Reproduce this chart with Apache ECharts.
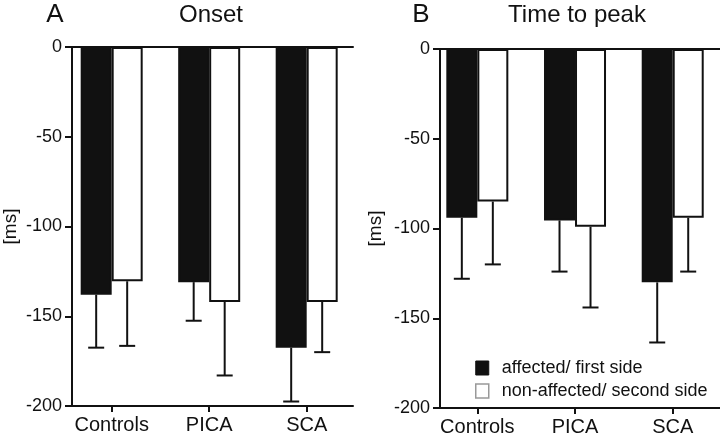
<!DOCTYPE html>
<html>
<head>
<meta charset="utf-8">
<script src="https://cdn.jsdelivr.net/npm/echarts@6/dist/echarts.min.js"></script>
<style>
html,body{margin:0;padding:0;background:#fff;}
#c{width:720px;height:438px;}
</style>
</head>
<body>
<div id="c"></div>
<script>
// ---- data ----
const categories = ['Controls', 'PICA', 'SCA'];
const catPos = [0, 1, 2];
const seriesNames = ['affected/ first side', 'non-affected/ second side'];
// Panel A: Onset [ms]
const onsetAffected = [-138, -131, -167.5];
const onsetAffectedSD = [29.5, 21.5, 30];
const onsetNon = [-130.5, -142, -142];
const onsetNonSD = [36, 41, 28];
// Panel B: Time to peak [ms]
const peakAffected = [-94, -95.5, -130];
const peakAffectedSD = [34, 28.5, 33.5];
const peakNon = [-85, -99, -94];
const peakNonSD = [35, 45, 30];
const yMin = -200, yMax = 0, yStep = 50;

const FONT = '"Liberation Sans", Arial, Helvetica, sans-serif';
const INK = '#111';
const BW = 31;

const chart = echarts.init(document.getElementById('c'), null, {renderer: 'canvas'});

function xAxes(grid, min, max) {
  return [
    {
      gridIndex: grid, type: 'value', position: 'bottom', min: min, max: max,
      splitLine: {show: false},
      axisLine: {show: true, onZero: false, lineStyle: {color: INK, width: 2}},
      axisTick: {show: true, length: 6, lineStyle: {color: INK, width: 2}, customValues: catPos},
      axisLabel: {show: true, customValues: catPos, margin: 9, fontSize: 20, color: INK, fontFamily: FONT,
        formatter: v => categories[Math.round(v)]}
    },
    {
      gridIndex: grid, type: 'value', position: 'top', min: min, max: max,
      splitLine: {show: false},
      axisLine: {show: true, onZero: false, lineStyle: {color: INK, width: 2}},
      axisTick: {show: false}, axisLabel: {show: false}
    }
  ];
}
function yAxis(grid, gap) {
  return {
    gridIndex: grid, type: 'value', min: yMin, max: yMax, interval: yStep,
    splitLine: {show: false},
    axisLine: {show: true, onZero: false, lineStyle: {color: INK, width: 2}},
    axisTick: {show: true, length: 7, lineStyle: {color: INK, width: 2}},
    axisLabel: {margin: 10, fontSize: 18, color: INK, fontFamily: FONT},
    name: '[ms]', nameLocation: 'middle', nameRotate: 90, nameGap: gap,
    nameTextStyle: {fontSize: 19, color: INK, fontFamily: FONT}
  };
}
function bars(name, xi, yi, vals, fill) {
  return {
    name: name, type: 'bar', xAxisIndex: xi, yAxisIndex: yi,
    barWidth: BW, barGap: '0%',
    data: catPos.map((x, i) => [x, vals[i]]),
    itemStyle: {color: fill, borderColor: INK, borderWidth: 2},
    silent: true, animation: false
  };
}
function errs(xi, yi, vals, sds, side) {
  return {
    type: 'custom', xAxisIndex: xi, yAxisIndex: yi, silent: true, animation: false, z: 3,
    data: catPos.map((x, i) => [x, vals[i], sds[i]]),
    renderItem: function (params, api) {
      const x = api.value(0), m = api.value(1), s = api.value(2);
      const a = api.coord([x, m]);
      const b = api.coord([x, m - s]);
      const cx = a[0] + side * BW / 2;
      const st = {stroke: INK, lineWidth: 2};
      return {type: 'group', children: [
        {type: 'line', shape: {x1: cx, y1: a[1], x2: cx, y2: b[1]}, style: st},
        {type: 'line', shape: {x1: cx - 8, y1: b[1], x2: cx + 8, y2: b[1]}, style: st}
      ]};
    }
  };
}

const option = {
  backgroundColor: '#fff',
  animation: false,
  textStyle: {fontFamily: FONT},
  grid: [
    {left: 72, top: 47, width: 281, height: 359},
    {left: 440, top: 49, width: 282, height: 359}
  ],
  xAxis: [].concat(xAxes(0, -0.407, 2.475), xAxes(1, -0.382, 2.484)),
  yAxis: [yAxis(0, 52), yAxis(1, 55)],
  legend: {
    orient: 'vertical', left: 475, top: 359, padding: 0,
    itemWidth: 13, itemHeight: 14, itemGap: 5,
    selectedMode: false,
    textStyle: {fontSize: 18, color: INK, fontFamily: FONT, padding: [0, 0, 0, 8]},
    data: [
      {name: seriesNames[0], icon: 'rect', itemStyle: {color: INK, borderColor: INK, borderWidth: 1}},
      {name: seriesNames[1], icon: 'rect', itemStyle: {color: '#fff', borderColor: '#999', borderWidth: 1.5}}
    ]
  },
  graphic: [
    {type: 'text', x: 55, y: 15, style: {text: 'A', font: '26px ' + FONT, fill: INK, textAlign: 'center', textVerticalAlign: 'middle'}},
    {type: 'text', x: 211, y: 15, style: {text: 'Onset', font: '24px ' + FONT, fill: INK, textAlign: 'center', textVerticalAlign: 'middle'}},
    {type: 'text', x: 421, y: 15, style: {text: 'B', font: '26px ' + FONT, fill: INK, textAlign: 'center', textVerticalAlign: 'middle'}},
    {type: 'text', x: 577, y: 15, style: {text: 'Time to peak', font: '24px ' + FONT, fill: INK, textAlign: 'center', textVerticalAlign: 'middle'}}
  ],
  series: [
    bars(seriesNames[0], 0, 0, onsetAffected, INK),
    bars(seriesNames[1], 0, 0, onsetNon, '#fff'),
    errs(0, 0, onsetAffected, onsetAffectedSD, -1),
    errs(0, 0, onsetNon, onsetNonSD, 1),
    bars(seriesNames[0], 2, 1, peakAffected, INK),
    bars(seriesNames[1], 2, 1, peakNon, '#fff'),
    errs(2, 1, peakAffected, peakAffectedSD, -1),
    errs(2, 1, peakNon, peakNonSD, 1)
  ]
};
chart.setOption(option);
</script>
</body>
</html>
